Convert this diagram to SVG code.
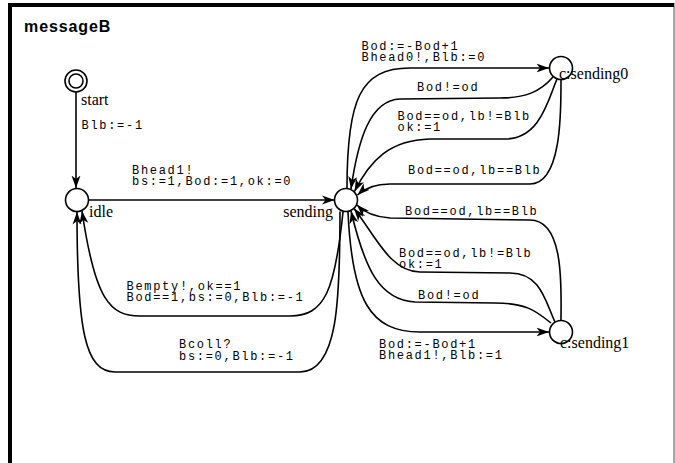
<svg xmlns="http://www.w3.org/2000/svg" width="675" height="463" viewBox="0 0 675 463">
<style>
.st{fill:#fff;stroke:#000;stroke-width:1.6}
.e{fill:none;stroke:#000;stroke-width:1.6}
.n{font-family:"Liberation Serif","Times New Roman",serif;font-size:16px;fill:#000}
.l{font-family:"Liberation Mono","Courier New",monospace;font-size:12px;letter-spacing:1.7px;fill:#000}
.t{font-family:"Liberation Sans",Arial,sans-serif;font-size:16px;font-weight:bold;letter-spacing:0.9px;fill:#000}
</style>
<defs>
<marker id="ah" markerUnits="userSpaceOnUse" markerWidth="13" markerHeight="10" viewBox="0 0 13 10" refX="12.5" refY="5" orient="auto">
<path d="M0,0.5 L12.5,5 L0,9.5 L3.5,5 z" fill="#000"/>
</marker>
</defs>
<rect width="675" height="463" fill="#fff"/>
<g id="frame">
<line x1="674" y1="3" x2="674" y2="463" stroke="#888" stroke-width="1.5"/>
<line x1="8" y1="5" x2="674" y2="5" stroke="#000" stroke-width="4"/>
<line x1="10" y1="3" x2="10" y2="463" stroke="#000" stroke-width="4"/>
<text class="t" x="24" y="32">messageB</text>
</g>
<g id="connectors">
<path class="e" marker-end="url(#ah)" d="M76,92 L76,188"/>
<path class="e" marker-end="url(#ah)" d="M88.5,200 L334.5,200"/>
<path class="e" marker-end="url(#ah)" d="M343,212 C335,290 325,316 290,316 L140,316 C110,316 95,300 82,211"/>
<path class="e" marker-end="url(#ah)" d="M340,211.5 C340,300 338,372 300,372 L115,372 C85,372 77,330 77,212"/>
<path class="e" marker-end="url(#ah)" d="M347,188 C347,100 360,68 410,68 L549,68"/>
<path class="e" marker-end="url(#ah)" d="M553,77 C540,92 525,98 500,98 L400,99 C370,100 358,140 351,189"/>
<path class="e" marker-end="url(#ah)" d="M557,79 C548,100 540,139 505,139 L430,139 C390,140 370,160 354.5,191.5"/>
<path class="e" marker-end="url(#ah)" d="M561,80 C561,110 562,184 530,184 L390,184 C375,184 365,188 357.5,195"/>
<path class="e" marker-end="url(#ah)" d="M561,320 C561,290 565,220 530,220 L390,218 C375,217 364,212 357,205"/>
<path class="e" marker-end="url(#ah)" d="M555,322 C545,300 540,273 510,273 L420,272 C390,272 375,235 354,208.5"/>
<path class="e" marker-end="url(#ah)" d="M551,323 C535,310 525,303 495,303 L415,302 C380,300 365,270 351,211"/>
<path class="e" marker-end="url(#ah)" d="M348,212 C352,300 370,332 420,332 L549,332"/>
</g>
<g id="edge-labels">
<text class="l" x="81.5" y="129">Blb:=-1</text>
<text class="l" x="132" y="173.5">Bhead1!</text>
<text class="l" x="132" y="185">bs:=1,Bod:=1,ok:=0</text>
<text class="l" x="361.5" y="49.5">Bod:=-Bod+1</text>
<text class="l" x="361.5" y="61">Bhead0!,Blb:=0</text>
<text class="l" x="417" y="90.5">Bod!=od</text>
<text class="l" x="397.5" y="119.5">Bod==od,lb!=Blb</text>
<text class="l" x="397.5" y="130.5">ok:=1</text>
<text class="l" x="408" y="173.5">Bod==od,lb==Blb</text>
<text class="l" x="405" y="215">Bod==od,lb==Blb</text>
<text class="l" x="399" y="256.5">Bod==od,lb!=Blb</text>
<text class="l" x="399" y="267.5">ok:=1</text>
<text class="l" x="418" y="298.5">Bod!=od</text>
<text class="l" x="379" y="347.5">Bod:=-Bod+1</text>
<text class="l" x="379" y="358.5">Bhead1!,Blb:=1</text>
<text class="l" x="126.5" y="289.5">Bempty!,ok==1</text>
<text class="l" x="126.5" y="301">Bod==1,bs:=0,Blb:=-1</text>
<text class="l" x="179" y="347.5">Bcoll?</text>
<text class="l" x="179" y="359.5">bs:=0,Blb:=-1</text>
</g>
<g id="start">
<circle class="st" cx="76" cy="81" r="11"/>
<circle class="st" cx="76" cy="81" r="7"/>
<text class="n" x="81" y="105">start</text>
</g>
<g id="idle">
<circle class="st" cx="77" cy="200" r="11.5"/>
<text class="n" x="89" y="217">idle</text>
</g>
<g id="sending">
<circle class="st" cx="346" cy="200" r="11.5"/>
<text class="n" x="333" y="217" text-anchor="end">sending</text>
</g>
<g id="sending0">
<circle class="st" cx="561" cy="68" r="11.5"/>
<text class="n" x="559" y="79">c:sending0</text>
</g>
<g id="sending1">
<circle class="st" cx="561" cy="332" r="11.5"/>
<text class="n" x="560" y="348">c:sending1</text>
</g>
</svg>
